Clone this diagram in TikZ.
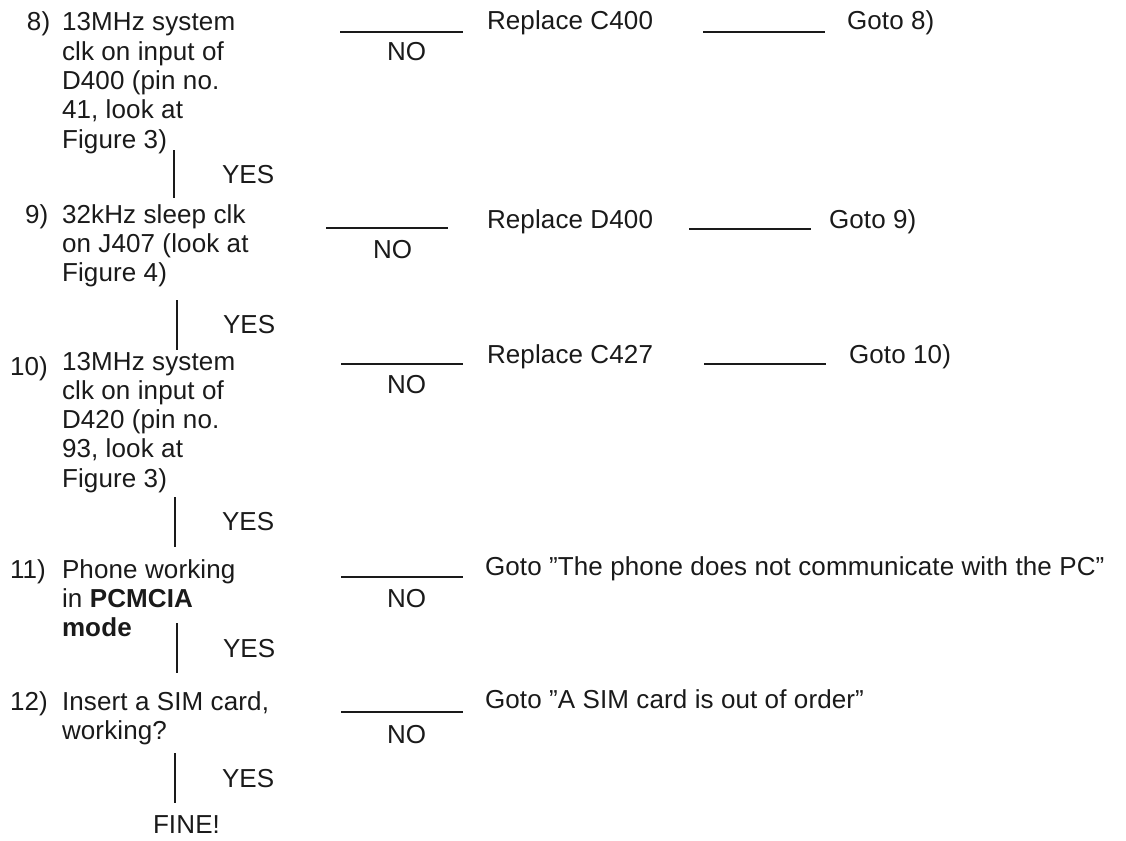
\documentclass[tikz,border=0pt]{standalone}
\usepackage{fontspec}
\setmainfont{Liberation Sans}[LetterSpace=0.5]
\definecolor{ink}{HTML}{1A1A1A}
\newcommand{\qlines}[1]{\begin{tabular}[t]{@{}l@{}}#1\end{tabular}}
\begin{document}
\begin{tikzpicture}[x=1pt,y=-1pt,
  every node/.style={inner sep=0pt, outer sep=0pt, anchor=base west, text=ink,
    font=\fontsize{26}{29.3}\selectfont},
  link/.style={draw=ink, line width=1.8pt}]
\useasboundingbox (0,0) rectangle (1126,840);

% ---------- step 8
\node (n8) at (27,31) {8)};
\node (q8) at (62,31) {\qlines{13MHz system\\clk on input of\\D400 (pin no.\\41, look at\\Figure 3)}};
\node (no8) at (387,61) {NO};
\node (r8) at (487,30) {Replace C400};
\node (g8) at (847,30) {Goto 8)};
\coordinate (a8) at (340,32); \coordinate (b8) at (463,32);
\coordinate (c8) at (703,32); \coordinate (d8) at (825,32);
\draw[link] (a8) -- (b8);
\draw[link] (c8) -- (d8);
\coordinate (v8a) at (174,150); \coordinate (v8b) at (174,198);
\draw[link] (v8a) -- (v8b);
\node (y8) at (222,183) {YES};

% ---------- step 9
\node (n9) at (25,223) {9)};
\node (q9) at (62,223) {\qlines{32kHz sleep clk\\on J407 (look at\\Figure 4)}};
\node (no9) at (373,258) {NO};
\node (r9) at (487,228) {Replace D400};
\node (g9) at (829,228) {Goto 9)};
\coordinate (a9) at (326,228); \coordinate (b9) at (448,228);
\coordinate (c9) at (689,229); \coordinate (d9) at (811,229);
\draw[link] (a9) -- (b9);
\draw[link] (c9) -- (d9);
\coordinate (v9a) at (177,300); \coordinate (v9b) at (177,350);
\draw[link] (v9a) -- (v9b);
\node (y9) at (223,333) {YES};

% ---------- step 10
\node (n10) at (10,375) {10)};
\node (q10) at (62,370) {\qlines{13MHz system\\clk on input of\\D420 (pin no.\\93, look at\\Figure 3)}};
\node (no10) at (387,393) {NO};
\node (r10) at (487,363) {Replace C427};
\node (g10) at (849,363) {Goto 10)};
\coordinate (a10) at (341,364); \coordinate (b10) at (463,364);
\coordinate (c10) at (704,364); \coordinate (d10) at (826,364);
\draw[link] (a10) -- (b10);
\draw[link] (c10) -- (d10);
\coordinate (v10a) at (175,497); \coordinate (v10b) at (175,547);
\draw[link] (v10a) -- (v10b);
\node (y10) at (222,530) {YES};

% ---------- step 11
\node (n11) at (10,578) {11)};
\node (q11) at (62,578) {\qlines{Phone working\\in \textbf{PCMCIA}\\\textbf{mode}}};
\node (no11) at (387,607) {NO};
\node (g11) at (485,575) {Goto ”The phone does not communicate with the PC”};
\coordinate (a11) at (341,577); \coordinate (b11) at (463,577);
\draw[link] (a11) -- (b11);
\coordinate (v11a) at (177,623); \coordinate (v11b) at (177,673);
\draw[link] (v11a) -- (v11b);
\node (y11) at (223,657) {YES};

% ---------- step 12
\node (n12) at (10,710) {12)};
\node (q12) at (62,710) {\qlines{Insert a SIM card,\\working?}};
\node (no12) at (387,743) {NO};
\node (g12) at (485,708) {Goto ”A SIM card is out of order”};
\coordinate (a12) at (341,712); \coordinate (b12) at (463,712);
\draw[link] (a12) -- (b12);
\coordinate (v12a) at (175,753); \coordinate (v12b) at (175,803);
\draw[link] (v12a) -- (v12b);
\node (y12) at (222,787) {YES};
\node (fine) at (153,833) {FINE!};
\end{tikzpicture}
\end{document}
